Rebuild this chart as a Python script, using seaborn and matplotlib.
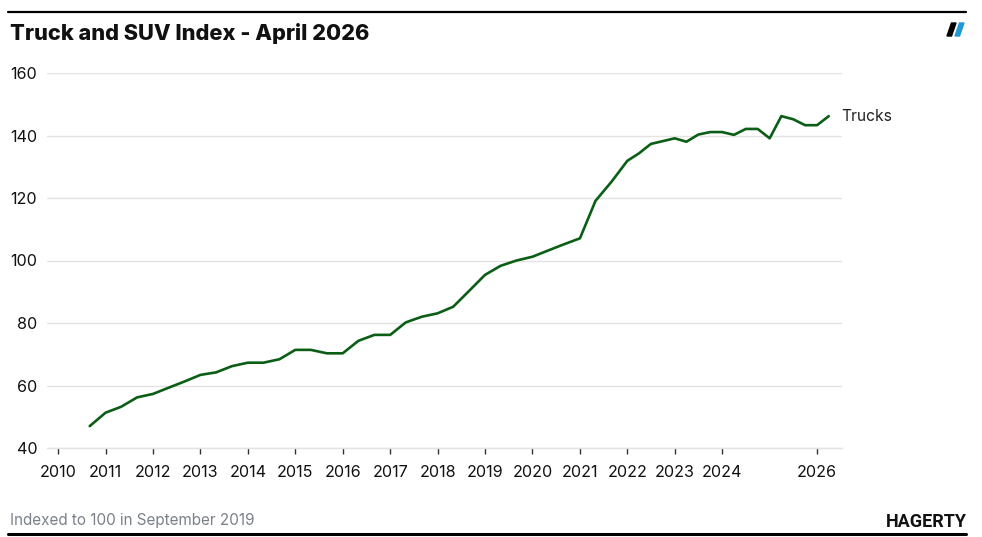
import matplotlib
matplotlib.use("Agg")
import matplotlib.pyplot as plt
from matplotlib.patches import Polygon
from matplotlib.lines import Line2D
import pandas as pd
import seaborn as sns

# ---------------- data ----------------
dates = [
    "2010-09", "2011-01", "2011-05", "2011-09", "2012-01", "2012-05", "2012-09",
    "2013-01", "2013-05", "2013-09", "2014-01", "2014-05", "2014-09",
    "2015-01", "2015-05", "2015-09", "2016-01", "2016-05", "2016-09",
    "2017-01", "2017-05", "2017-09", "2018-01", "2018-05", "2018-09",
    "2019-01", "2019-05", "2019-09", "2020-01", "2020-05", "2020-09",
    "2021-01", "2021-05", "2021-09", "2022-01",
    "2022-04", "2022-07", "2022-10", "2023-01", "2023-04", "2023-07", "2023-10",
    "2024-01", "2024-04", "2024-07", "2024-10", "2025-01", "2025-04", "2025-07",
    "2025-10", "2026-01", "2026-04",
]
trucks = [
    47.0, 51.3, 53.2, 56.2, 57.3, 59.3, 61.3,
    63.4, 64.2, 66.2, 67.3, 67.3, 68.4,
    71.4, 71.4, 70.3, 70.3, 74.3, 76.2,
    76.2, 80.2, 82.0, 83.1, 85.2, 90.3,
    95.4, 98.3, 100.0, 101.2, 103.2, 105.2,
    107.1, 119.1, 125.2, 131.9,
    134.3, 137.3, 138.2, 139.1, 138.0, 140.3, 141.1,
    141.1, 140.2, 142.1, 142.1, 139.1, 146.2, 145.2,
    143.3, 143.3, 146.2,
]
series_name = "Trucks"
tick_years = [2010, 2011, 2012, 2013, 2014, 2015, 2016, 2017, 2018,
              2019, 2020, 2021, 2022, 2023, 2024, 2026]
tick_labels = [str(y) for y in tick_years]
y_ticks = [40, 60, 80, 100, 120, 140, 160]
title = "Truck and SUV Index - April 2026"
note = "Indexed to 100 in September 2019"
brand = "HAGERTY"

# ---------------- style ----------------
sns.set_theme(style="white")
plt.rcParams["font.family"] = ["Inter", "DejaVu Sans"]

W, H = 982, 537
df = pd.DataFrame({"date": pd.to_datetime(dates), "value": trucks})

fig = plt.figure(figsize=(W / 100, H / 100), dpi=100)
fig.patch.set_facecolor("white")
ax = fig.add_axes([47 / W, 1 - 448 / H, (842 - 47) / W, (448 - 73) / H])

sns.lineplot(data=df, x="date", y="value", color="#0b5e16", linewidth=1.9,
             ax=ax, legend=False)

ax.set_xlim(pd.Timestamp("2009-10-07"), pd.Timestamp("2026-07-12"))
ax.set_ylim(40, 160)
ax.set_yticks(y_ticks)
ax.set_xticks([pd.Timestamp(f"{y}-01-01") for y in tick_years])
ax.set_xticklabels(tick_labels)
ax.set_xlabel("")
ax.set_ylabel("")

ax.grid(axis="y", color="#e3e3e3", linewidth=1)
ax.grid(axis="x", visible=False)
for s in ["top", "right", "left"]:
    ax.spines[s].set_visible(False)
ax.spines["bottom"].set_color("#e3e3e3")
ax.spines["bottom"].set_linewidth(1)

ax.tick_params(axis="x", bottom=True, direction="out", length=4, width=1,
               color="#333333", pad=8.5, labelsize=11.6, labelcolor="#111111")
ax.tick_params(axis="y", left=False, length=0, pad=7, labelsize=11.6,
               labelcolor="#111111")

# end label
ax.annotate(series_name, xy=(df["date"].iloc[-1], df["value"].iloc[-1]),
            xytext=(9, 0), textcoords="offset points", va="center", ha="left",
            fontsize=11.2, color="#222222", annotation_clip=False)

# title & footer
fig.text(10 / W, 1 - 40 / H, title, fontsize=15.7, fontweight="heavy",
         color="#111111", va="baseline", ha="left")
fig.text(10 / W, 1 - 525 / H, note, fontsize=11, color="#7b8089",
         va="baseline", ha="left")
fig.text(967 / W, 1 - 527 / H, brand, fontsize=13, fontweight="bold",
         color="#111111", va="baseline", ha="right",
         family=["Roboto", "DejaVu Sans"])

# rules
fig.add_artist(Line2D([8 / W, 966 / W], [1 - 12 / H, 1 - 12 / H],
                      color="black", linewidth=1.6, transform=fig.transFigure))
fig.add_artist(Line2D([8 / W, 966 / W], [1 - 533.5 / H, 1 - 533.5 / H],
                      color="black", linewidth=2.2, transform=fig.transFigure))

# logo slashes
def px(pts):
    return [(x / W, 1 - y / H) for x, y in pts]

fig.add_artist(Polygon(px([(947, 36), (951.5, 36), (956, 23), (951.5, 23)]),
                       closed=True, color="black", transform=fig.transFigure))
fig.add_artist(Polygon(px([(955, 36), (959.5, 36), (964, 23), (959.5, 23)]),
                       closed=True, color="#1e9ad6", transform=fig.transFigure))

fig.savefig("out.png", dpi=100)
